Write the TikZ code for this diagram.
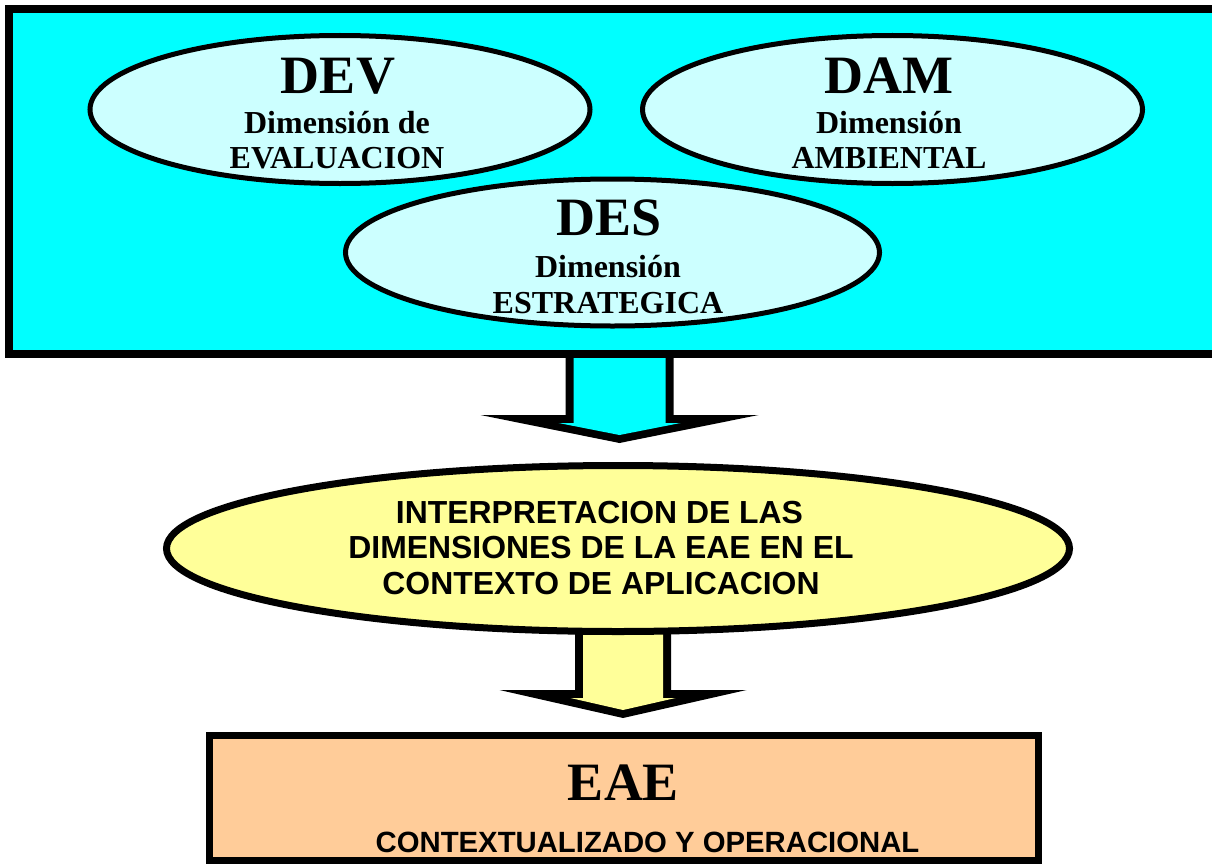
\documentclass[tikz,border=0pt]{standalone}
\usepackage{fontspec}
\setmainfont{Liberation Serif}
\newfontfamily\arialfont{Liberation Sans}
\usetikzlibrary{shapes.geometric,calc}
\pgfdeclarelayer{background}
\pgfsetlayers{background,main}
\definecolor{panelcyan}{HTML}{00FFFF}
\definecolor{lightcyan}{HTML}{CCFFFF}
\definecolor{paleyellow}{HTML}{FFFF99}
\definecolor{peach}{HTML}{FFCC99}
\begin{document}
\begin{tikzpicture}[x=1pt,y=-1pt,
  dimell/.style={ellipse, draw=black, line width=5pt, fill=lightcyan, inner sep=0pt,
                 minimum width=500pt, minimum height=148pt},
  titletext/.style={anchor=base, inner sep=0pt, font=\fontsize{54}{54}\selectfont\bfseries},
  subtext/.style={anchor=base, inner sep=0pt, font=\fontsize{32}{32}\selectfont\bfseries},
  interptext/.style={anchor=base, inner sep=0pt, font=\arialfont\bfseries\fontsize{31.9}{31.9}\selectfont},
  outtext/.style={anchor=base, inner sep=0pt, font=\arialfont\bfseries\fontsize{29.3}{29.3}\selectfont},
]
\useasboundingbox (0,0) rectangle (1212,867);

% top panel
\node[draw=black, line width=8pt, fill=panelcyan, inner sep=0pt,
      minimum width=1208pt, minimum height=345pt] (panel) at (613,181.5) {};

% dimension ellipses
\node[dimell] (dev) at (340,109.5) {};
\node[dimell] (dam) at (892.5,109.5) {};
\node[dimell, minimum width=534pt, minimum height=147pt] (des) at (612.5,252.5) {};

\node[titletext] (devt) at (338,93) {DEV};
\node[subtext] (devs1) at (337,133) {Dimensión de};
\node[subtext] (devs2) at (337,168) {EVALUACION};

\node[titletext] (damt) at (889,93) {DAM};
\node[subtext] (dams1) at (889,133) {Dimensión};
\node[subtext] (dams2) at (889,168) {AMBIENTAL};

\node[titletext] (dest) at (609,235) {DES};
\node[subtext] (dess1) at (608,277) {Dimensión};
\node[subtext] (dess2) at (608,313) {ESTRATEGICA};

% interpretation ellipse
\node[ellipse, draw=black, line width=7pt, fill=paleyellow, inner sep=0pt,
      minimum width=903pt, minimum height=166pt] (interp) at (618,548.5) {};
\node[interptext] (interp1) at (599.5,523) {INTERPRETACION DE LAS};
\node[interptext] (interp2) at (601,558) {DIMENSIONES DE LA EAE EN EL};
\node[interptext] (interp3) at (601,594) {CONTEXTO DE APLICACION};

% result box
\node[draw=black, line width=7pt, fill=peach, inner sep=0pt,
      minimum width=829pt, minimum height=125pt] (eae) at (624,798) {};
\node[titletext] (eaet) at (623.5,800) {EAE};
\node[outtext] (eaes) at (647.5,852) {CONTEXTUALIZADO Y OPERACIONAL};

% block arrows
\coordinate (tip1) at (619.5,443);
\coordinate (top1) at (tip1 |- panel.center);
\coordinate (tip2) at (623,718);
\coordinate (top2) at (tip2 |- interp.center);

\begin{pgfonlayer}{background}
\fill[white] (0,0) rectangle (1212,867);
\fill[black] ($(top1)+(-54,0)$) -- ($(tip1)+(-54,-28)$) -- ($(tip1)+(-139,-28)$) -- (tip1)
  -- ($(tip1)+(139,-28)$) -- ($(tip1)+(54,-28)$) -- ($(top1)+(54,0)$) -- cycle;
\fill[panelcyan] ($(top1)+(-46,0)$) -- ($(tip1)+(-46,-20)$) -- ($(tip1)+(-61,-20)$) -- ($(tip1)+(0,-8)$)
  -- ($(tip1)+(61,-20)$) -- ($(tip1)+(46,-20)$) -- ($(top1)+(46,0)$) -- cycle;
\fill[black] ($(top2)+(-48,0)$) -- ($(tip2)+(-48,-28)$) -- ($(tip2)+(-123.5,-28)$) -- (tip2)
  -- ($(tip2)+(123.5,-28)$) -- ($(tip2)+(48,-28)$) -- ($(top2)+(48,0)$) -- cycle;
\fill[paleyellow] ($(top2)+(-40,0)$) -- ($(tip2)+(-40,-20)$) -- ($(tip2)+(-52.5,-20)$) -- ($(tip2)+(0,-8)$)
  -- ($(tip2)+(52.5,-20)$) -- ($(tip2)+(40,-20)$) -- ($(top2)+(40,0)$) -- cycle;
\end{pgfonlayer}
\end{tikzpicture}
\end{document}
